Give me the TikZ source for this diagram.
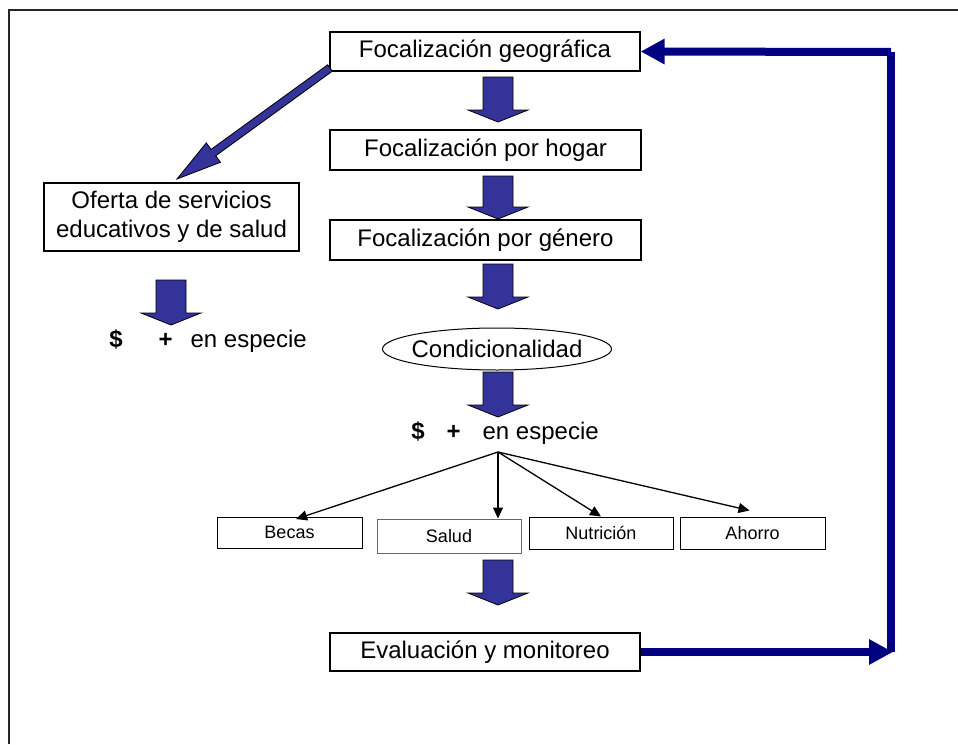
\documentclass[tikz,border=0pt]{standalone}
\usepackage{fontspec}
\setmainfont{Liberation Sans}
\usetikzlibrary{arrows.meta,shapes.geometric,calc}
\definecolor{blk}{HTML}{333399}
\definecolor{fbc}{HTML}{000080}
\newcommand\bdown[4]{%
  \filldraw[blockarrow] (#1-15,#2) -- (#1+15,#2) -- (#1+15,#3) -- (#1+30,#3) -- (#1,#4) -- (#1-30,#3) -- (#1-15,#3) -- cycle;}
\begin{document}
\begin{tikzpicture}[x=1pt,y=-1pt,
  box/.style={draw=black, line width=1.2pt, fill=white, inner sep=0pt, font=\fontsize{24}{29}\selectfont},
  sbox/.style={draw=black, line width=1pt, fill=white, inner sep=0pt, font=\fontsize{18}{22}\selectfont},
  blockarrow/.style={fill=blk, draw=black, line width=0.8pt},
  fb/.style={draw=fbc, line width=8pt},
  thinarrow/.style={draw=black, line width=1.3pt, -{Triangle[length=11pt,width=10pt]}},
  plain/.style={inner sep=0pt, font=\fontsize{24}{29}\selectfont},
]
\useasboundingbox (0,0) rectangle (958,744);
% frame
\draw[line width=2.2pt, draw=black!85] (9,744) -- (9,10) -- (958,10);

% main boxes
\node[box, minimum width=310pt, minimum height=39pt] (fg) at (485,51.5) {Focalización geográfica};
\node[box, minimum width=311pt, minimum height=40pt] (hogar) at (485.5,150) {Focalización por hogar};
\node[box, minimum width=311pt, minimum height=40pt] (genero) at (485.5,240) {Focalización por género};
\node[box, ellipse, minimum width=229pt, minimum height=42pt, line width=1pt] (cond) at (497,349) {\makebox[0pt]{Condicionalidad}};
\node[box, minimum width=255pt, minimum height=68pt, align=center] (oferta) at (171.5,217) {Oferta de servicios\\educativos y de salud};
\node[box, minimum width=310pt, minimum height=38pt] (ev) at (485,652) {Evaluación y monitoreo};

% small boxes
\node[sbox, minimum width=145pt, minimum height=31pt] (becas) at (289.5,532.5) {Becas};
\node[sbox, draw=black!60, minimum width=144pt, minimum height=34pt] (salud) at (449,536) {Salud};
\node[sbox, minimum width=144pt, minimum height=32pt] (nutr) at (601,533) {Nutrición};
\node[sbox, minimum width=145pt, minimum height=32pt] (ahorro) at (752.5,533) {Ahorro};

% money texts
\node[plain] (money) at (505,433) {\textbf{\$}\hspace{22pt}\textbf{+}\hspace{22pt}en especie};
\node[plain] (money2) at (208,341) {\textbf{\$}\hspace{36pt}\textbf{+}\hspace{18pt}en especie};

% block arrows
\bdown{498}{77}{110}{122}
\bdown{498}{176}{207}{219}
\bdown{498}{264}{297}{309}
\bdown{498}{372}{405}{417}
\bdown{498}{560}{593}{605}
\bdown{171}{280}{313}{325}

% diagonal block arrow
\filldraw[blockarrow] (332.3,71.2) -- (215.7,155.8) -- (220.5,162.3) -- (177,179) -- (206.3,142.9) -- (211.1,149.4) -- (327.7,64.8) -- cycle;

% thin arrows
\coordinate (hub) at (498,452);
\draw[thinarrow] (hub) -- (296,519);
\draw[thinarrow] (hub) -- (hub |- salud.north);
\draw[thinarrow] (hub) -- (nutr.north);
\draw[thinarrow] (hub) -- ($(ahorro.north)+(-3,-6)$);

% feedback loop
\coordinate (c1) at (891,652);
\coordinate (c2) at (891,52);
\draw[fb, line cap=square] (c1) -- (c2);
\draw[fb, -{Triangle[length=24pt,width=24pt]}] (ev.east) -- (893,652);
\draw[fb, -{Triangle[length=24pt,width=24pt]}] (c2) -- (fg.east);
\end{tikzpicture}
\end{document}
